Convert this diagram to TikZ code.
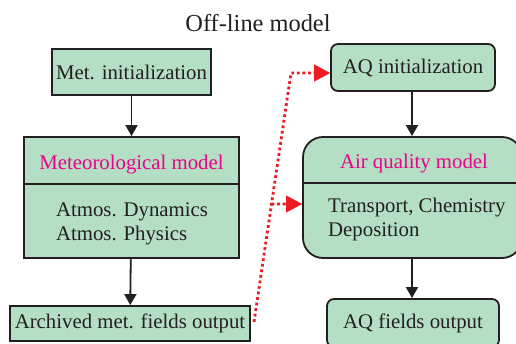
\documentclass[tikz,border=0pt]{standalone}
\usepackage{fontspec}
\setmainfont{Liberation Serif}
\usetikzlibrary{arrows.meta,calc}
\definecolor{boxfill}{HTML}{B4DFC4}
\definecolor{boxline}{HTML}{231F20}
\definecolor{mag}{HTML}{EC008C}
\definecolor{redline}{HTML}{ED1C24}
\begin{document}
\begin{tikzpicture}[x=1pt,y=-1pt,
  box/.style={draw=boxline,fill=boxfill,line width=1.8pt,inner sep=0pt,
    font=\fontsize{20.8}{24}\selectfont,text=boxline},
  rbox/.style={box,rounded corners=7pt},
  flow/.style={draw=boxline,line width=1.8pt,-{Triangle[length=11pt,width=12pt]}},
  dotline/.style={draw=redline,line width=2.8pt,dash pattern=on 2.8pt off 2.8pt},
  redtip/.style={-{Triangle[length=16pt,width=17pt]},redline},
  txt/.style={font=\fontsize{20.8}{24}\selectfont,text=boxline,inner sep=0pt}]
\useasboundingbox (0,0) rectangle (516,343);
\node[txt,font=\fontsize{24.4}{28}\selectfont] (title) at (258,23) {Off-line model};
% left column
\node[box,minimum width=159pt,minimum height=46pt] (metinit) at (131.5,72) {Met. initialization};
\node[box,minimum width=215pt,minimum height=121pt] (metmodel) at (131.5,197.5) {};
\draw[draw=boxline,line width=1.8pt] (metmodel.west |- 0,184) -- (metmodel.east |- 0,184);
\node[txt,text=mag] (metname) at (131.5,165) {Meteorological model};
\node[txt,align=left,font=\fontsize{20.8}{24}\selectfont] (metbody) at (132,224) {Atmos. Dynamics\\Atmos. Physics};
\node[box,minimum width=240pt,minimum height=35pt] (arch) at (130,323.5) {Archived met. fields output};
% right column
\node[rbox,minimum width=164pt,minimum height=47pt] (aqinit) at (413,67.5) {AQ initialization};
\node[box,rounded corners=20pt,minimum width=219pt,minimum height=121pt] (aqmodel) at (412.5,197.5) {};
\draw[draw=boxline,line width=1.8pt] (aqmodel.west |- 0,183) -- (aqmodel.east |- 0,183);
\node[txt,text=mag] (aqname) at (414,164) {Air quality model};
\node[txt,align=left,font=\fontsize{20.8}{24}\selectfont,anchor=north west] (aqbody) at (328,198) {Transport, Chemistry\\Deposition};
\node[rbox,minimum width=172pt,minimum height=48pt] (aqout) at (413,323) {AQ fields output};
% flow arrows
\draw[flow] (metinit) -- (metmodel);
\draw[flow] (metmodel) -- (arch);
\draw[flow] (aqinit.south -| 412,0) -- (aqmodel.north -| 412,0);
\draw[flow] (aqmodel.south -| 412,0) -- (aqout.north -| 412,0);
% red dotted
\coordinate (bend) at (291,73);
\coordinate (start) at (254,322);
\coordinate (branch) at ($(start)!0.474!(bend)$);
\draw[dotline] (start) -- (bend) -- ($(aqinit.west |- bend)+(-15,0)$);
\draw[dotline] (branch) -- ($(aqmodel.west |- 0,204)+(-15,0)$);
\draw[redtip,line width=0.1pt] ($(aqinit.west |- bend)+(-16,0)$) -- (aqinit.west |- bend);
\draw[redtip,line width=0.1pt] ($(aqmodel.west |- 0,204)+(-16,0)$) -- (aqmodel.west |- 0,204);
\end{tikzpicture}
\end{document}
